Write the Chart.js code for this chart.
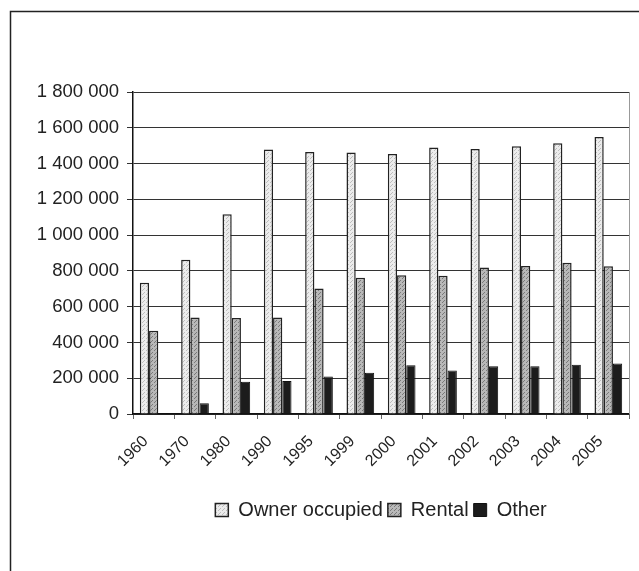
<!DOCTYPE html>
<html>
<head>
<meta charset="utf-8">
<script src="https://cdn.jsdelivr.net/npm/chart.js@4/dist/chart.umd.min.js"></script>
<style>
  html, body { margin: 0; padding: 0; background: #fff; }
  #wrap { width: 639px; height: 571px; position: relative; }
</style>
</head>
<body>
<div id="wrap"><canvas id="housingChart" width="639" height="571"></canvas></div>
<script>
// Dwellings by tenure
const years = ['1960', '1970', '1980', '1990', '1995', '1999', '2000', '2001', '2002', '2003', '2004', '2005'];
const ownerOccupied = [733000, 862000, 1116000, 1479000, 1465000, 1462000, 1454000, 1490000, 1482000, 1497000, 1514000, 1549000];
const rental = [465000, 540000, 536000, 540000, 701000, 761000, 776000, 773000, 819000, 828000, 845000, 826000];
const other = [5000, 60000, 180000, 185000, 209000, 230000, 273000, 243000, 267000, 267000, 275000, 282000];
const yTicks = [0, 200000, 400000, 600000, 800000, 1000000, 1200000, 1400000, 1600000, 1800000];

const fontFamily = '"Liberation Sans", Arial, sans-serif';

function spaced(v) {
    return String(v).replace(/\B(?=(\d{3})+(?!\d))/g, ' ');
}

// small stippled fill, like the printed bars
function stipple(base, dot) {
    const p = document.createElement('canvas');
    p.width = 4;
    p.height = 4;
    const g = p.getContext('2d');
    g.fillStyle = base;
    g.fillRect(0, 0, 4, 4);
    g.fillStyle = dot;
    g.fillRect(0, 0, 1, 1);
    g.fillRect(2, 2, 1, 1);
    g.fillRect(3, 1, 1, 1);
    return g.createPattern(p, 'repeat');
}

// frame round the chart and right edge of the plot area
const framePlugin = {
    id: 'frame',
    afterDraw(chart) {
        const c = chart.ctx;
        const a = chart.chartArea;
        c.save();
        c.strokeStyle = '#222';
        c.lineWidth = 1.5;
        c.beginPath();
        c.moveTo(10.5, chart.height);
        c.lineTo(10.5, 11.5);
        c.lineTo(chart.width, 11.5);
        c.stroke();
        c.strokeStyle = '#999';
        c.lineWidth = 1;
        c.beginPath();
        c.moveTo(Math.round(a.right) + 0.5, a.top);
        c.lineTo(Math.round(a.right) + 0.5, a.bottom);
        c.stroke();
        c.restore();
    }
};

const ctx = document.getElementById('housingChart').getContext('2d');
new Chart(ctx, {
    type: 'bar',
    data: {
        labels: years,
        datasets: [
            { label: 'Owner occupied', data: ownerOccupied, backgroundColor: stipple('#ececec', '#bdbdbd'), borderColor: '#222', borderWidth: 1.5 },
            { label: 'Rental', data: rental, backgroundColor: stipple('#b8b8b8', '#7a7a7a'), borderColor: '#222', borderWidth: 1.5 },
            { label: 'Other', data: other, backgroundColor: '#1c1c1c', borderColor: '#111', borderWidth: 1 }
        ]
    },
    options: {
        responsive: false,
        animation: false,
        layout: { padding: { left: 0, top: 92, right: 10, bottom: 41 } },
        datasets: { bar: { categoryPercentage: 0.67, barPercentage: 1.0 } },
        plugins: {
            tooltip: { enabled: false },
            legend: {
                position: 'bottom',
                fullSize: false, // centre it under the plot area
                labels: {
                    color: '#222',
                    font: { family: fontFamily, size: 20 },
                    boxWidth: 13,
                    boxHeight: 13,
                    padding: 5
                }
            }
        },
        scales: {
            x: {
                grid: { display: true, drawOnChartArea: false, tickLength: 5, color: '#666' },
                border: { color: '#111', width: 1.5 },
                ticks: {
                    color: '#222',
                    font: { family: fontFamily, size: 16 },
                    minRotation: 45,
                    maxRotation: 45,
                    padding: 13,
                    labelOffset: -8
                },
                afterFit(scale) { scale.height = 81; }
            },
            y: {
                min: 0,
                max: 1800000,
                grid: { color: '#333', lineWidth: 1, tickLength: 6 },
                border: { color: '#111', width: 1.5 },
                afterBuildTicks(scale) { scale.ticks = yTicks.map(v => ({ value: v })); },
                ticks: {
                    color: '#222',
                    font: { family: fontFamily, size: 18.5 },
                    padding: 8,
                    callback: v => spaced(v)
                },
                afterFit(scale) { scale.width = 133; }
            }
        }
    },
    plugins: [framePlugin]
});
</script>
</body>
</html>
